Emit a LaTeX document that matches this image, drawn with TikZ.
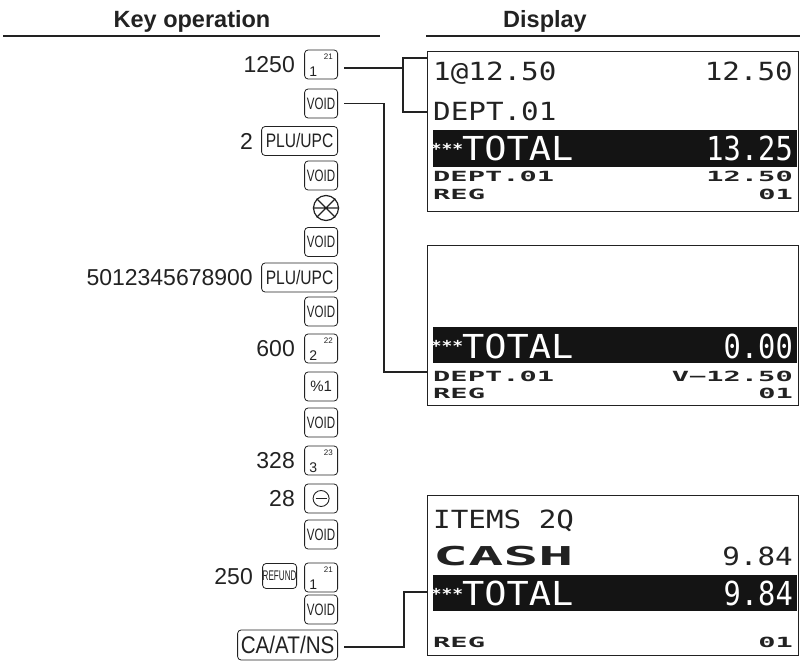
\documentclass[tikz,border=0pt]{standalone}
\usepackage{fontspec}
\usepackage{graphicx}
\setmainfont{Liberation Sans}
\newfontfamily\lcd{DejaVu Sans Mono}
\usetikzlibrary{calc}
\definecolor{ink}{HTML}{222222}
\newcommand{\fs}[1]{\fontsize{#1}{#1}\selectfont}
\newcommand{\voidtxt}{\scalebox{0.7}[1]{\fs{16.5}VOID}}
\newcommand{\plutxt}{\scalebox{0.8}[1]{\fs{19.5}PLU/UPC}}
\newcommand{\lcdL}[1]{\scalebox{1.17}[1]{\lcd\fs{25}#1}}
\newcommand{\lcdS}[1]{\scalebox{2.05}[1]{\lcd\bfseries\fs{14}#1}}
\newcommand{\lcdT}[1]{\scalebox{1.12}[1]{\lcd\fs{33}#1}}
\newcommand{\lcdN}[1]{\scalebox{0.87}[1]{\lcd\fs{33}#1}}
\newcommand{\lcdC}[1]{\scalebox{2.24}[1]{\lcd\bfseries\fs{26}#1}}
\newcommand{\lcdA}{\scalebox{1.2}[1]{\lcd\bfseries\fs{15}***}}
\newcommand{\numkey}[4]{%
  \node[keybox] (#1) at (338,#2) {};
  \node[font=\fs{14}, anchor=base west, inner sep=0pt, text=ink] (#1d) at ($(#1.south west)+(5,-3)$) {#3};
  \node[font=\fs{8}, anchor=base east, inner sep=0pt, text=ink] (#1s) at ($(#1.north east)+(-5,10)$) {#4};
}
\tikzset{
  keybox/.style={draw=ink, rounded corners=3.5pt, line width=0.8pt, minimum height=29pt, minimum width=33pt, inner sep=0pt, anchor=east, text=ink},
  numtxt/.style={font=\fs{23}, text=ink, inner sep=0pt, anchor=east},
  conn/.style={draw=ink, line width=1.1pt},
  hline/.style={draw=ink, line width=1.3pt},
  dbox/.style={draw=ink, line width=1.1pt, minimum width=371pt, minimum height=160pt, anchor=north west, inner sep=0pt},
  lcdbar/.style={fill=black!92},
  dl/.style={inner sep=0pt, anchor=base west, text=ink},
  dr/.style={inner sep=0pt, anchor=base east, text=ink},
  wl/.style={inner sep=0pt, anchor=base west, text=white},
  wr/.style={inner sep=0pt, anchor=base east, text=white},
  wc/.style={inner sep=0pt, anchor=center, text=white},
}
\begin{document}
\begin{tikzpicture}[x=1pt,y=-1pt]
\useasboundingbox (0,0) rectangle (805,662);
% headers
\node[font=\bfseries\fs{23.5}, anchor=base, text=ink, inner sep=0pt] (h1) at (192,27) {Key operation};
\node[font=\bfseries\fs{23.5}, anchor=base, text=ink, inner sep=0pt] (h2) at (545,27) {Display};
\draw[hline] (3,36) -- (380,36);
\draw[hline] (426,36) -- (800,36);
% keys
\numkey{k1}{64.5}{1}{21}
\node[numtxt] (n1) at (295,65) {1250};
\node[keybox] (v1) at (338,103.5) {\voidtxt};
\node[keybox, minimum width=76pt] (p1) at (338,141) {\plutxt};
\node[numtxt] (n2) at (253,141) {2};
\node[keybox] (v2) at (338,175.5) {\voidtxt};
\node[circle, draw=ink, line width=1.2pt, minimum size=25pt, inner sep=0pt] (mul) at (326,208) {};
\draw[ink, line width=1.2pt] (mul.north west) -- (mul.south east) (mul.north east) -- (mul.south west) (mul.west) -- (mul.east);
\node[keybox] (v3) at (338,242) {\voidtxt};
\node[keybox, minimum width=76pt] (p2) at (338,277.5) {\plutxt};
\node[numtxt] (n3) at (253,277.5) {5012345678900};
\node[keybox] (v4) at (338,311.5) {\voidtxt};
\numkey{k2}{348.5}{2}{22}
\node[numtxt] (n4) at (295,349) {600};
\node[keybox, font=\fs{15}] (pc) at (338,386.5) {\%1};
\node[keybox] (v5) at (338,422.5) {\voidtxt};
\numkey{k3}{460.5}{3}{23}
\node[numtxt] (n5) at (295,461) {328};
\node[keybox] (mk) at (338,498.5) {};
\node[circle, draw=ink, line width=0.9pt, minimum size=16pt, inner sep=0pt] (mc) at (mk.center) {};
\draw[ink, line width=0.9pt] ([xshift=3pt]mc.west) -- ([xshift=-3pt]mc.east);
\node[numtxt] (n6) at (295,499) {28};
\node[keybox] (v6) at (338,534.5) {\voidtxt};
\numkey{k4}{577.5}{1}{21}
\node[keybox, minimum height=25pt, minimum width=34pt] (rf) at (297,576) {\scalebox{0.58}[1]{\fs{14}REFUND}};
\node[numtxt] (n7) at (253,577) {250};
\node[keybox] (v7) at (338,609.5) {\voidtxt};
\node[keybox, minimum width=100pt, minimum height=30pt] (ca) at (338,645) {\scalebox{0.86}[1]{\fs{24}CA/AT/NS}};
% display 1
\fill[lcdbar] (433,130) rectangle (797,167);
\node[dbox] (d1) at (427,51) {};
\node[dl] (a1) at (433,80) {\lcdL{1@12.50}};
\node[dr] (a2) at (793,80) {\lcdL{12.50}};
\node[dl] (a3) at (433,120.5) {\lcdL{DEPT.01}};
\node[wc] (a4) at (447,149) {\lcdA};
\node[wl] (a5) at (462,160) {\lcdT{TOTAL}};
\node[wr] (a6) at (793,160) {\lcdN{13.25}};
\node[dl] (a7) at (433,181.7) {\lcdS{DEPT.01}};
\node[dr] (a8) at (793,181.7) {\lcdS{12.50}};
\node[dl] (a9) at (433,199) {\lcdS{REG}};
\node[dr] (a10) at (793,199) {\lcdS{01}};
% display 2
\fill[lcdbar] (433,327) rectangle (797,363);
\node[dbox] (d2) at (427,245) {};
\node[wc] (b4) at (447,346) {\lcdA};
\node[wl] (b5) at (462,358) {\lcdT{TOTAL}};
\node[wr] (b6) at (793,358) {\lcdN{0.00}};
\node[dl] (b7) at (433,381.7) {\lcdS{DEPT.01}};
\node[dr] (b8) at (793,381.7) {\lcdS{V−12.50}};
\node[dl] (b9) at (433,398) {\lcdS{REG}};
\node[dr] (b10) at (793,398) {\lcdS{01}};
% display 3
\fill[lcdbar] (433,575) rectangle (797,611);
\node[dbox] (d3) at (427,495) {};
\node[dl] (c1) at (433,528) {\lcdL{ITEMS 2Q}};
\node[dl] (c2) at (433,565) {\lcdC{CASH}};
\node[dr] (c3) at (793,565) {\lcdL{9.84}};
\node[wc] (c4) at (447,594) {\lcdA};
\node[wl] (c5) at (462,605) {\lcdT{TOTAL}};
\node[wr] (c6) at (793,605) {\lcdN{9.84}};
\node[dl] (c9) at (433,647) {\lcdS{REG}};
\node[dr] (c10) at (793,647) {\lcdS{01}};
% connectors
\coordinate (b1t) at (403,58);
\coordinate (b1b) at (403,112);
\draw[conn] ($(k1.east)+(6,3.5)$) -- ($(k1.east)+(65,3.5)$);
\draw[conn] (b1t -| d1.west) -- (b1t) -- (b1b) -- (b1b -| d1.west);
\coordinate (j2) at (384,372);
\draw[conn] ([xshift=6pt]v1.east) -| (j2) -- (j2 -| d2.west);
\coordinate (j3) at (404,592);
\draw[conn] ([xshift=6pt,yshift=-2pt]ca.east) -| (j3) -- (j3 -| d3.west);
\end{tikzpicture}
\end{document}
